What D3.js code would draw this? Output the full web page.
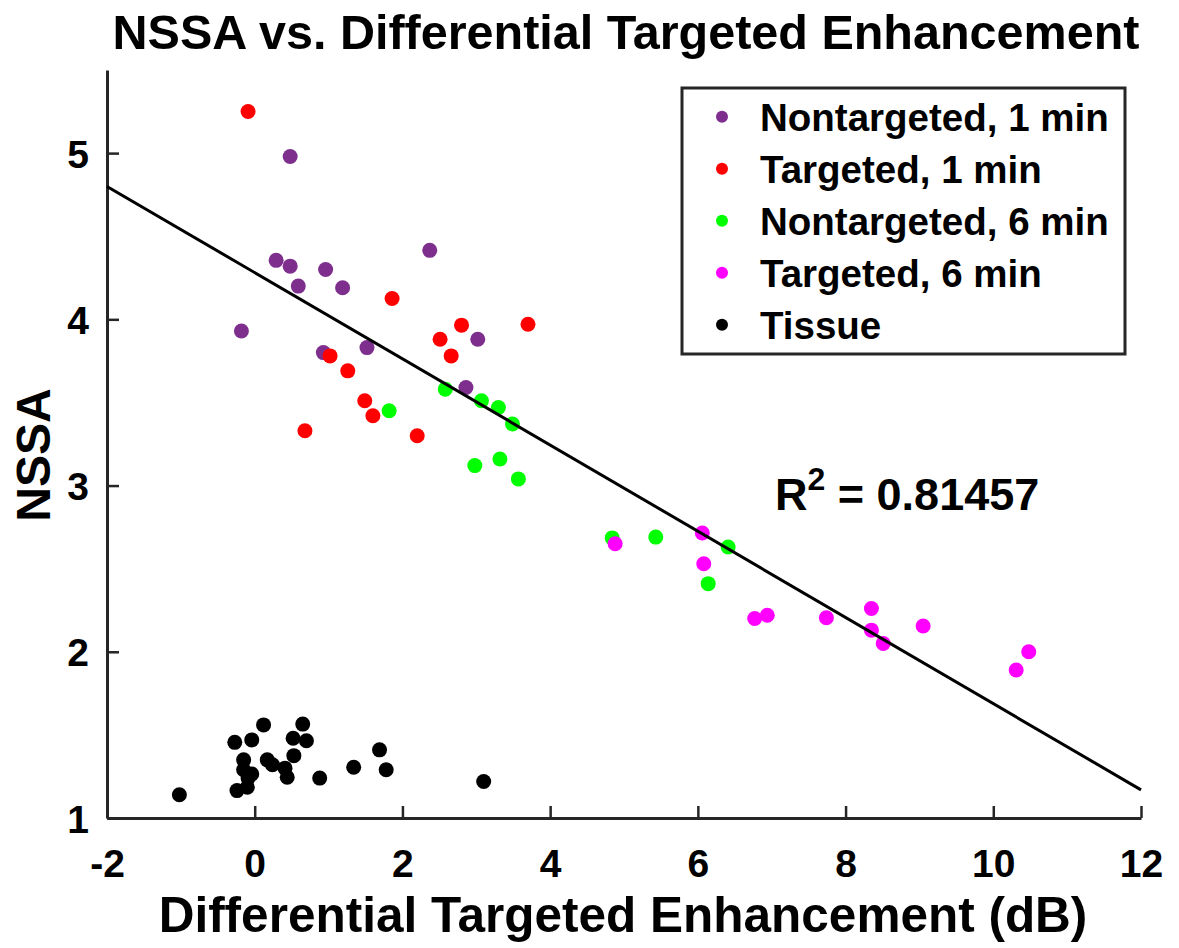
<!DOCTYPE html>
<html>
<head>
<meta charset="utf-8">
<script src="https://cdn.jsdelivr.net/npm/d3@7"></script>
<style>
  body { margin: 0; background: #fff; }
  svg text { font-family: "Liberation Sans", Arial, sans-serif; font-weight: bold; fill: #000; }
</style>
</head>
<body>
<svg id="chart" width="1179" height="948"></svg>
<script>
// series: [x (dB), NSSA]
var nontargeted1 = [
  [0.48, 4.98], [0.29, 4.355], [0.48, 4.32], [0.96, 4.30], [0.59, 4.20], [1.19, 4.19],
  [2.37, 4.415], [-0.18, 3.93], [3.02, 3.88], [0.93, 3.80], [1.52, 3.83], [2.86, 3.59]
];
var targeted1 = [
  [-0.09, 5.25], [1.86, 4.125], [3.70, 3.97], [2.80, 3.965], [2.51, 3.88], [2.66, 3.78],
  [1.02, 3.78], [1.26, 3.69], [1.49, 3.51], [1.60, 3.42], [0.68, 3.33], [2.20, 3.30]
];
var nontargeted6 = [
  [2.58, 3.58], [3.07, 3.51], [3.30, 3.47], [3.49, 3.37], [1.82, 3.45], [2.98, 3.12],
  [3.32, 3.16], [3.57, 3.04], [4.84, 2.685], [5.43, 2.69], [6.41, 2.63], [6.14, 2.41]
];
var targeted6 = [
  [4.88, 2.65], [6.06, 2.715], [6.08, 2.53], [6.77, 2.20], [6.94, 2.22], [7.74, 2.205],
  [8.35, 2.26], [8.35, 2.13], [8.51, 2.05], [9.05, 2.155], [10.48, 2.00], [10.31, 1.89]
];
var tissue = [
  [-1.02, 1.14], [0.12, 1.56], [0.65, 1.565], [-0.27, 1.455], [-0.04, 1.47], [0.52, 1.48],
  [0.70, 1.465], [-0.15, 1.35], [0.17, 1.35], [0.24, 1.32], [0.53, 1.375], [-0.15, 1.29],
  [-0.04, 1.265], [0.41, 1.30], [0.44, 1.245], [-0.24, 1.165], [-0.10, 1.185], [0.88, 1.24],
  [1.34, 1.305], [1.69, 1.41], [1.78, 1.29], [3.10, 1.22], [-0.09, 1.24]
];

var seriesNames = ["Nontargeted, 1 min", "Targeted, 1 min", "Nontargeted, 6 min", "Targeted, 6 min", "Tissue"];
var seriesColors = ["#7e2f8e", "#ff0000", "#00ff00", "#ff00ff", "#000000"];
var seriesData = [nontargeted1, targeted1, nontargeted6, targeted6, tissue];

var xTicks = [-2, 0, 2, 4, 6, 8, 10, 12];
var yTicks = [1, 2, 3, 4, 5];

// linear fit NSSA = fitA + fitB * x
var fitA = 4.281, fitB = -0.2593;
var rSquared = "0.81457";

var svg = d3.select('#chart');
var axisColor = '#262626';

var x = d3.scaleLinear().domain([-2, 12]).range([107, 1141]);
var y = d3.scaleLinear().domain([1, 5.5]).range([818, 70]);

// axes
var plain = function(d) { return String(d); };
var xAxis = d3.axisBottom(x).tickValues(xTicks).tickFormat(plain).tickSizeInner(-12).tickSizeOuter(0);
var yAxis = d3.axisLeft(y).tickValues(yTicks).tickFormat(plain).tickSizeInner(-12).tickSizeOuter(0).tickPadding(18);

var gx = svg.append('g').attr('transform', 'translate(0,' + y(1) + ')').call(xAxis);
var gy = svg.append('g').attr('transform', 'translate(' + x(-2) + ',0)').call(yAxis);

[gx, gy].forEach(function(g) {
    g.select('.domain').attr('stroke', axisColor).attr('stroke-width', 3);
    g.selectAll('.tick line').attr('stroke', axisColor).attr('stroke-width', 2.5);
    g.selectAll('.tick text').attr('font-size', 39).attr('fill', '#000');
});
gx.selectAll('.tick text').attr('dy', '0.71em').attr('y', 31);
gy.selectAll('.tick text').attr('dy', '0.36em');

// points
seriesData.forEach(function(data, i) {
    svg.append('g').selectAll('circle')
        .data(data)
      .enter().append('circle')
        .attr('cx', function(d) { return x(d[0]); })
        .attr('cy', function(d) { return y(d[1]); })
        .attr('r', 7.5)
        .attr('fill', seriesColors[i]);
});

// fit line
svg.append('line')
    .attr('x1', x(-2)).attr('y1', y(fitA + fitB * -2))
    .attr('x2', x(12)).attr('y2', y(fitA + fitB * 12))
    .attr('stroke', '#000').attr('stroke-width', 3);

// R^2 label
var r2 = svg.append('text').attr('x', 775).attr('y', 510).attr('font-size', 45);
r2.append('tspan').text('R');
r2.append('tspan').attr('font-size', 32).attr('dy', -20).text('2');
r2.append('tspan').attr('dy', 20).text(' = ' + rSquared);

// title and labels
svg.append('text')
    .attr('x', 626).attr('y', 49)
    .attr('text-anchor', 'middle').attr('font-size', 48.5)
    .text('NSSA vs. Differential Targeted Enhancement');

svg.append('text')
    .attr('x', 623).attr('y', 932)
    .attr('text-anchor', 'middle').attr('font-size', 49.5)
    .text('Differential Targeted Enhancement (dB)');

svg.append('text')
    .attr('transform', 'translate(50,455) rotate(-90)')
    .attr('text-anchor', 'middle').attr('font-size', 48)
    .text('NSSA');

// legend
var legend = svg.append('g');
legend.append('rect')
    .attr('x', 682).attr('y', 88).attr('width', 443).attr('height', 266)
    .attr('fill', '#fff').attr('stroke', axisColor).attr('stroke-width', 3);

var items = legend.selectAll('.item')
        .data(seriesNames)
    .enter().append('g')
        .classed('item', true)
        .attr('transform', function(d, i) { return 'translate(0,' + (116.7 + i * 52) + ')'; });

items.append('circle')
    .attr('cx', 722).attr('cy', 0).attr('r', 6)
    .attr('fill', function(d, i) { return seriesColors[i]; });

items.append('text')
    .attr('x', 760).attr('y', 14)
    .attr('font-size', 38.5)
    .text(function(d) { return d; });
</script>
</body>
</html>
